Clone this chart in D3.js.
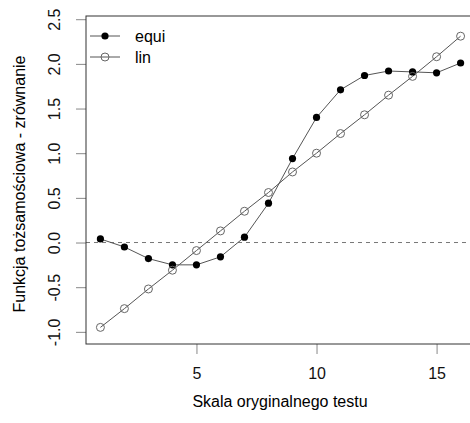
<!DOCTYPE html>
<html>
<head>
<meta charset="utf-8">
<script src="https://cdn.jsdelivr.net/npm/d3@7"></script>
<style>
  body { margin: 0; background: #fff; }
  svg { display: block; font-family: "Liberation Sans", Arial, Helvetica, sans-serif; }
</style>
</head>
<body>
<div id="chart"></div>
<script>
// scores on the original scale
const scores = [1, 2, 3, 4, 5, 6, 7, 8, 9, 10, 11, 12, 13, 14, 15, 16];
// equipercentile equating minus identity
const equi = [0.04, -0.05, -0.18, -0.25, -0.25, -0.16, 0.06, 0.44, 0.94, 1.40, 1.71, 1.87, 1.92, 1.91, 1.90, 2.01];
// linear equating minus identity
const lin = [-0.95, -0.74, -0.52, -0.31, -0.09, 0.13, 0.35, 0.56, 0.79, 1.00, 1.22, 1.43, 1.65, 1.86, 2.08, 2.31];
const xTicks = [5, 10, 15];
const yTicks = [-1.0, -0.5, 0.0, 0.5, 1.0, 1.5, 2.0, 2.5];
const seriesNames = ["equi", "lin"];

const width = 470, height = 423;
const margin = {top: 16, left: 86, bottom: 344, right: 475};

const x = d3.scaleLinear().domain([0.4, 16.6]).range([margin.left, margin.right]);
const y = d3.scaleLinear().domain([-1.136, 2.536]).range([margin.bottom, margin.top]);

// R prints a plain hyphen, not the unicode minus
const fmtY = d => d3.format(".1f")(d).replace("\u2212", "-");

const svg = d3.select("#chart").append("svg")
  .attr("width", width)
  .attr("height", height);

// axes, R style
const xAxis = svg.append("g")
  .attr("transform", `translate(0,${margin.bottom})`)
  .call(d3.axisBottom(x).tickValues(xTicks).tickFormat(d3.format("d")).tickSize(10).tickPadding(8));
xAxis.select(".domain").remove();
xAxis.attr("font-family", null);
xAxis.selectAll("line").attr("stroke", "#888");
xAxis.selectAll("text")
  .attr("font-size", 16)
  .attr("fill", "#111")
  .attr("y", 35)
  .attr("dy", null);

const yAxis = svg.append("g")
  .attr("transform", `translate(${margin.left},0)`)
  .call(d3.axisLeft(y).tickValues(yTicks).tickFormat(fmtY).tickSize(10));
yAxis.select(".domain").remove();
yAxis.attr("font-family", null);
yAxis.selectAll("line").attr("stroke", "#888");
yAxis.selectAll("text")
  .attr("font-size", 16)
  .attr("fill", "#111")
  .attr("x", 0)
  .attr("y", 0)
  .attr("dy", null)
  .attr("text-anchor", "middle")
  .attr("transform", `translate(${60 - margin.left},0) rotate(-90)`);

// zero reference line
svg.append("line")
  .attr("x1", margin.left).attr("x2", margin.right)
  .attr("y1", y(0)).attr("y2", y(0))
  .attr("stroke", "#777")
  .attr("stroke-dasharray", "4,4");

const line = d3.line()
  .x((d, i) => x(scores[i]))
  .y(d => y(d));

svg.append("path")
  .datum(equi)
  .attr("d", line)
  .attr("fill", "none")
  .attr("stroke", "#555")
  .attr("stroke-width", 1);

svg.append("path")
  .datum(lin)
  .attr("d", line)
  .attr("fill", "none")
  .attr("stroke", "#555")
  .attr("stroke-width", 1);

svg.append("g").selectAll("circle")
  .data(equi)
  .join("circle")
  .attr("cx", (d, i) => x(scores[i]))
  .attr("cy", d => y(d))
  .attr("r", 3.6)
  .attr("fill", "#000");

svg.append("g").selectAll("circle")
  .data(lin)
  .join("circle")
  .attr("cx", (d, i) => x(scores[i]))
  .attr("cy", d => y(d))
  .attr("r", 4)
  .attr("fill", "none")
  .attr("stroke", "#666")
  .attr("stroke-width", 1);

// plot box
svg.append("rect")
  .attr("x", margin.left).attr("y", margin.top)
  .attr("width", margin.right - margin.left)
  .attr("height", margin.bottom - margin.top)
  .attr("fill", "none")
  .attr("stroke", "#333");

// legend
const legend = svg.append("g").selectAll("g")
  .data(seriesNames)
  .join("g")
  .attr("transform", (d, i) => `translate(90,${36 + i * 21})`);
legend.append("line")
  .attr("x1", 0).attr("x2", 30)
  .attr("stroke", "#555");
legend.append("circle")
  .attr("cx", 15)
  .attr("r", (d, i) => i === 0 ? 3.6 : 4)
  .attr("fill", (d, i) => i === 0 ? "#000" : "none")
  .attr("stroke", (d, i) => i === 0 ? "none" : "#666");
legend.append("text")
  .attr("x", 45)
  .attr("dy", "0.35em")
  .attr("font-size", 16)
  .text(d => d);

// axis titles
svg.append("text")
  .attr("x", 280)
  .attr("y", 407)
  .attr("text-anchor", "middle")
  .attr("font-size", 16)
  .text("Skala oryginalnego testu");

svg.append("text")
  .attr("transform", `translate(25,184) rotate(-90)`)
  .attr("text-anchor", "middle")
  .attr("font-size", 16)
  .text("Funkcja tożsamościowa - zrównanie");
</script>
</body>
</html>
